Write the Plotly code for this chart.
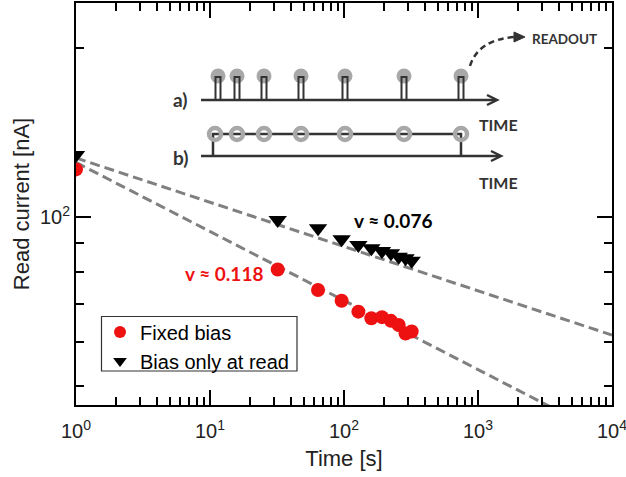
import plotly.graph_objects as go

# ---------------- data ----------------
time_s = [1, 32, 64, 96, 128, 160, 192, 224, 256, 288, 320]
fixed_bias = [121.5, 80.7, 74.2, 71.0, 67.9, 66.1, 66.4, 65.4, 64.3, 62.1, 62.6]
bias_read = [128.8, 98.8, 95.5, 91.3, 89.2, 88.0, 87.0, 86.2, 85.0, 84.5, 83.6]

fit_x = [1, 10000]
fit_read = [127.3, 61.7]      # v ~ 0.076
fit_fixed = [125.0, 40.4]     # v ~ 0.118

x_major = [1, 10, 100, 1000, 10000]
x_major_text = ["10<sup>0</sup>", "10<sup>1</sup>", "10<sup>2</sup>", "10<sup>3</sup>", "10<sup>4</sup>"]
x_minor = [m * d for d in [1, 10, 100, 1000] for m in range(2, 10)]
y_major = [100]
y_major_text = ["10<sup>2</sup>"]
y_minor = [50, 60, 70, 80, 90, 200]

pulse_x = [218, 237, 264, 301, 345, 404, 461]   # inset pulse positions (pixels)

# ---------------- layout geometry ----------------
W, H = 626, 477
L, R, T, B = 76, 14, 3, 72
PW, PH = W - L - R, H - T - B


def px(x):
    return (x - L) / PW


def py(y):
    return (H - B - y) / PH


def path(points, close=False):
    s = "M " + " L ".join(f"{px(a):.5f},{py(b):.5f}" for a, b in points)
    return s + (" Z" if close else "")


RED = "#ee1111"
DARK = "#333333"
GRAYC = "#a8a8a8"
AX_FONT = "Liberation Sans, Arial, sans-serif"
BOLD_FONT = "Lato, Open Sans, sans-serif"

fig = go.Figure()

fig.add_trace(go.Scatter(x=fit_x, y=fit_read, mode="lines", showlegend=False,
                         line=dict(color="#808080", width=3, dash="10px,5px")))
fig.add_trace(go.Scatter(x=fit_x, y=fit_fixed, mode="lines", showlegend=False,
                         line=dict(color="#808080", width=3, dash="10px,5px")))
fig.add_trace(go.Scatter(x=time_s, y=fixed_bias, mode="markers", name="Fixed bias",
                         marker=dict(symbol="circle", size=14, color=RED)))
fig.add_trace(go.Scatter(x=time_s, y=bias_read, mode="markers", name="Bias only at read",
                         marker=dict(symbol="triangle-down", size=16, color="black")))

shapes = []
# legend frame
shapes.append(dict(type="rect", xref="paper", yref="paper",
                   x0=px(101.5), x1=px(297), y0=py(371), y1=py(316.5),
                   fillcolor="white", line=dict(color="#333333", width=1.2), layer="above"))
# a) gray filled circles behind pulses
for cx in pulse_x:
    r = 7.5
    shapes.append(dict(type="circle", xref="paper", yref="paper",
                       x0=px(cx - r), x1=px(cx + r), y0=py(76 + r), y1=py(76 - r),
                       fillcolor=GRAYC, line=dict(width=0), layer="above"))
# a) baseline + arrow
shapes.append(dict(type="path", xref="paper", yref="paper",
                   path=path([(201, 100), (496, 100)]), line=dict(color=DARK, width=2.5)))
shapes.append(dict(type="path", xref="paper", yref="paper",
                   path=path([(487, 95), (497, 100), (487, 105)]), line=dict(color=DARK, width=2.5)))
# a) pulses
for cx in pulse_x:
    shapes.append(dict(type="path", xref="paper", yref="paper",
                       path=path([(cx - 2.5, 100), (cx - 2.5, 77), (cx + 2.5, 77), (cx + 2.5, 100)]),
                       line=dict(color=DARK, width=2)))
# b) baseline + arrow
shapes.append(dict(type="path", xref="paper", yref="paper",
                   path=path([(201, 156), (500, 156)]), line=dict(color=DARK, width=2.5)))
shapes.append(dict(type="path", xref="paper", yref="paper",
                   path=path([(491, 151), (501, 156), (491, 161)]), line=dict(color=DARK, width=2.5)))
# b) bias level
shapes.append(dict(type="path", xref="paper", yref="paper",
                   path=path([(213, 156), (213, 134), (461, 134), (461, 156)]),
                   line=dict(color=DARK, width=2.5)))
# b) rings
for cx in [215] + pulse_x[1:]:
    r = 6
    shapes.append(dict(type="circle", xref="paper", yref="paper",
                       x0=px(cx - r), x1=px(cx + r), y0=py(134 + r), y1=py(134 - r),
                       line=dict(color=GRAYC, width=4.5)))
# readout dashed curve + arrow head
shapes.append(dict(type="path", xref="paper", yref="paper",
                   path=f"M {px(470):.5f},{py(66):.5f} Q {px(478):.5f},{py(40):.5f} {px(514):.5f},{py(37):.5f}",
                   line=dict(color=DARK, width=2.5, dash="6px,4px")))
shapes.append(dict(type="path", xref="paper", yref="paper",
                   path=path([(514, 32), (525, 37), (514, 42)], close=True),
                   fillcolor=DARK, line=dict(color=DARK, width=1)))

annotations = []


def txt(x, y, s, size, color=DARK, font=BOLD_FONT, weight="bold", xanchor="center"):
    annotations.append(dict(x=px(x), y=py(y), xref="paper", yref="paper", text=s,
                            showarrow=False, xanchor=xanchor, yanchor="middle",
                            font=dict(family=font, size=size, color=color, weight=weight)))


txt(180, 100, "a)", 19)
txt(180, 157, "b)", 19)
txt(498, 124, "TIME", 16)
txt(498, 182, "TIME", 16)
txt(530, 39, "READOUT", 13.5, xanchor="left")
txt(352, 220, "v ≈ 0.076", 19, color="black", xanchor="left")
txt(183, 273, "v ≈ 0.118", 19, color=RED, xanchor="left")

axis_common = dict(
    type="log", showgrid=False, zeroline=False, automargin=False,
    showline=True, linecolor="black", linewidth=2, mirror="ticks",
    ticks="inside", ticklen=15, tickwidth=1.5, tickcolor="black",
    ticklabeloverflow="allow",
    tickfont=dict(family=AX_FONT, size=20, color="#222222"),
)

fig.update_layout(
    width=W, height=H,
    margin=dict(l=L, r=R, t=T, b=B, autoexpand=False),
    paper_bgcolor="white", plot_bgcolor="white",
    font=dict(family=AX_FONT, color="#222222"),
    xaxis=dict(axis_common, range=[0, 4], tickmode="array", tickvals=x_major, ticktext=x_major_text,
               ticklabelstandoff=7,
               minor=dict(ticks="inside", ticklen=8, tickwidth=1.5, tickcolor="black",
                          tickmode="array", tickvals=x_minor),
               title=dict(text="Time [s]", font=dict(family=AX_FONT, size=22, color="#222222"), standoff=10)),
    yaxis=dict(axis_common, range=[1.6661, 2.3801], tickmode="array", tickvals=y_major, ticktext=y_major_text,
               minor=dict(ticks="inside", ticklen=8, tickwidth=1.5, tickcolor="black",
                          tickmode="array", tickvals=y_minor),
               title=dict(text="Read current [nA]", font=dict(family=AX_FONT, size=22, color="#222222"), standoff=4)),
    legend=dict(x=px(100), y=py(312.5), xanchor="left", yanchor="top",
                bgcolor="rgba(0,0,0,0)", borderwidth=0,
                font=dict(family=AX_FONT, size=20, color="black"),
                tracegroupgap=0, itemsizing="constant"),
    shapes=shapes,
    annotations=annotations,
)

fig.write_html("out.html", config={"displayModeBar": False},
               post_script="document.body.style.margin='0px';")
